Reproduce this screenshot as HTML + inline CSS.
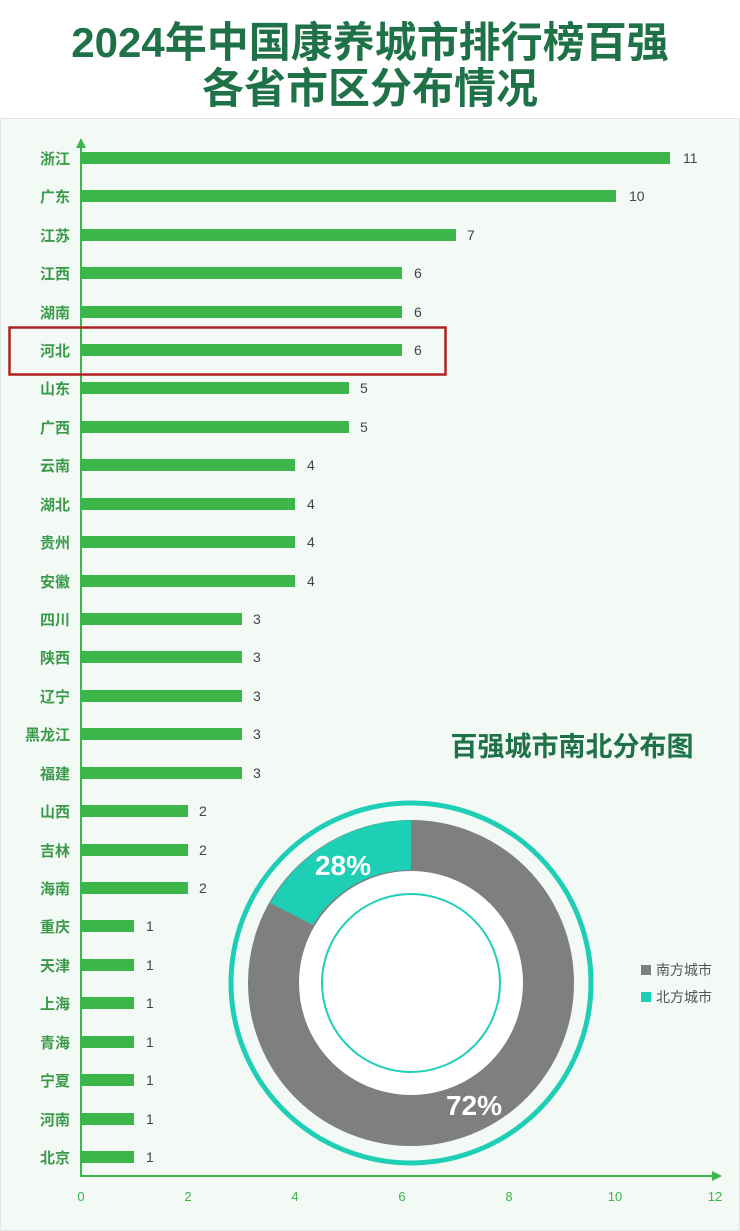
<!DOCTYPE html>
<html><head><meta charset="utf-8"><style>
body{margin:0;width:740px;height:1231px;background:#fff;overflow:hidden}
svg{display:block}
</style></head><body>
<svg width="740" height="1231" xmlns="http://www.w3.org/2000/svg" font-family="Liberation Sans, Noto Sans CJK SC, sans-serif">
<text x="370" y="57" text-anchor="middle" font-size="42" font-weight="bold" fill="#1f7248" font-family="Liberation Sans, Noto Sans CJK SC, sans-serif">2024年中国康养城市排行榜百强</text>
<text x="370" y="103" text-anchor="middle" font-size="42" font-weight="bold" fill="#1f7248" font-family="Liberation Sans, Noto Sans CJK SC, sans-serif">各省市区分布情况</text>
<rect x="0.5" y="118.5" width="739" height="1112" fill="#f3f9f5" stroke="#e2e6e3"/>
<line x1="81" y1="145" x2="81" y2="1176" stroke="#3cb54a" stroke-width="2"/>
<polygon points="81,138 76,148 86,148" fill="#3cb54a"/>
<line x1="80" y1="1176" x2="716" y2="1176" stroke="#3cb54a" stroke-width="2"/>
<polygon points="722,1176 712,1171 712,1181" fill="#3cb54a"/>
<g font-size="13" fill="#3cb54a" text-anchor="middle">
<text x="81" y="1201">0</text><text x="188" y="1201">2</text><text x="295" y="1201">4</text><text x="402" y="1201">6</text><text x="509" y="1201">8</text><text x="615" y="1201">10</text><text x="715" y="1201">12</text>
</g>
<rect x="9.5" y="327.5" width="436" height="47" fill="none" stroke="#b22222" stroke-width="2.5"/>
<text x="572" y="756" text-anchor="middle" font-size="27" font-weight="bold" fill="#1f7248" font-family="Liberation Sans, Noto Sans CJK SC, sans-serif">百强城市南北分布图</text>
<circle cx="411" cy="983" r="180" fill="none" stroke="#1fcfb5" stroke-width="5"/>
<circle cx="411" cy="983" r="113" fill="#fff"/>
<circle cx="411" cy="983" r="137.5" fill="none" stroke="#7f7f7f" stroke-width="51"/>
<path d="M411,820 A163,163 0 0 0 270,903 L313,925 A113,113 0 0 1 411,870 Z" fill="#1fcfb5"/>
<circle cx="411" cy="983" r="89" fill="#fff" stroke="#1fcfb5" stroke-width="2"/>
<text x="343" y="875" text-anchor="middle" font-size="28" font-weight="bold" fill="#fff">28%</text>
<text x="474" y="1115" text-anchor="middle" font-size="28" font-weight="bold" fill="#fff">72%</text>
<rect x="641" y="965" width="10" height="10" fill="#7f7f7f"/>
<rect x="641" y="992" width="10" height="10" fill="#1fcfb5"/>
<text x="656" y="975" font-size="14" fill="#555" font-family="Liberation Sans, Noto Sans CJK SC, sans-serif">南方城市</text>
<text x="656" y="1002" font-size="14" fill="#555" font-family="Liberation Sans, Noto Sans CJK SC, sans-serif">北方城市</text>
<g font-size="15" font-weight="bold" fill="#3a9a4a" text-anchor="end" font-family="Liberation Sans, Noto Sans CJK SC, sans-serif">
<text x="70" y="164">浙江</text><text x="70" y="202">广东</text><text x="70" y="241">江苏</text><text x="70" y="279">江西</text><text x="70" y="318">湖南</text><text x="70" y="356">河北</text><text x="70" y="394">山东</text><text x="70" y="433">广西</text><text x="70" y="471">云南</text><text x="70" y="510">湖北</text><text x="70" y="548">贵州</text><text x="70" y="587">安徽</text><text x="70" y="625">四川</text><text x="70" y="663">陕西</text><text x="70" y="702">辽宁</text><text x="70" y="740">黑龙江</text><text x="70" y="779">福建</text><text x="70" y="817">山西</text><text x="70" y="856">吉林</text><text x="70" y="894">海南</text><text x="70" y="932">重庆</text><text x="70" y="971">天津</text><text x="70" y="1009">上海</text><text x="70" y="1048">青海</text><text x="70" y="1086">宁夏</text><text x="70" y="1125">河南</text><text x="70" y="1163">北京</text>
</g>
<g fill="#3cb54a">
<rect x="82" y="152" width="588" height="12"/><rect x="82" y="190" width="534" height="12"/><rect x="82" y="229" width="374" height="12"/><rect x="82" y="267" width="320" height="12"/><rect x="82" y="306" width="320" height="12"/><rect x="82" y="344" width="320" height="12"/><rect x="82" y="382" width="267" height="12"/><rect x="82" y="421" width="267" height="12"/><rect x="82" y="459" width="213" height="12"/><rect x="82" y="498" width="213" height="12"/><rect x="82" y="536" width="213" height="12"/><rect x="82" y="575" width="213" height="12"/><rect x="82" y="613" width="160" height="12"/><rect x="82" y="651" width="160" height="12"/><rect x="82" y="690" width="160" height="12"/><rect x="82" y="728" width="160" height="12"/><rect x="82" y="767" width="160" height="12"/><rect x="82" y="805" width="106" height="12"/><rect x="82" y="844" width="106" height="12"/><rect x="82" y="882" width="106" height="12"/><rect x="82" y="920" width="52" height="12"/><rect x="82" y="959" width="52" height="12"/><rect x="82" y="997" width="52" height="12"/><rect x="82" y="1036" width="52" height="12"/><rect x="82" y="1074" width="52" height="12"/><rect x="82" y="1113" width="52" height="12"/><rect x="82" y="1151" width="52" height="12"/>
</g>
<g font-size="14" fill="#444">
<text x="683" y="163">11</text><text x="629" y="201">10</text><text x="467" y="240">7</text><text x="414" y="278">6</text><text x="414" y="317">6</text><text x="414" y="355">6</text><text x="360" y="393">5</text><text x="360" y="432">5</text><text x="307" y="470">4</text><text x="307" y="509">4</text><text x="307" y="547">4</text><text x="307" y="586">4</text><text x="253" y="624">3</text><text x="253" y="662">3</text><text x="253" y="701">3</text><text x="253" y="739">3</text><text x="253" y="778">3</text><text x="199" y="816">2</text><text x="199" y="855">2</text><text x="199" y="893">2</text><text x="146" y="931">1</text><text x="146" y="970">1</text><text x="146" y="1008">1</text><text x="146" y="1047">1</text><text x="146" y="1085">1</text><text x="146" y="1124">1</text><text x="146" y="1162">1</text>
</g>
</svg>
</body></html>
